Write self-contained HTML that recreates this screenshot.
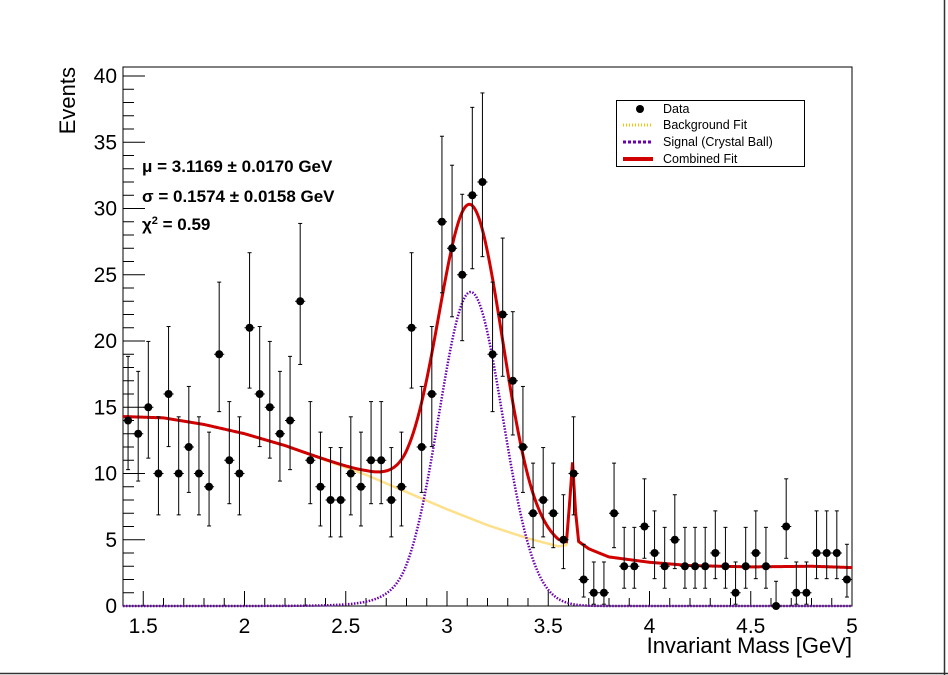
<!DOCTYPE html>
<html><head><meta charset="utf-8"><style>
body{margin:0;background:#fff;width:948px;height:675px;overflow:hidden}
svg{display:block;font-family:"Liberation Sans",Arial,sans-serif}
</style></head><body>
<svg id="chart" width="948" height="675" viewBox="0 0 948 675">
<rect x="0" y="0" width="948" height="675" fill="#fff"/>
<line x1="944.5" y1="0" x2="944.5" y2="675" stroke="#333" stroke-width="1.5"/>
<line x1="0" y1="673.5" x2="948" y2="673.5" stroke="#333" stroke-width="1.5"/>
<g id="plot"></g>
<text x="75" y="67" transform="rotate(-90 75 67)" text-anchor="end" font-size="22">Events</text>
<text x="852" y="653" text-anchor="end" font-size="22">Invariant Mass [GeV]</text>
<g font-size="17" font-weight="bold">
<text x="142" y="172">μ = 3.1169 ± 0.0170 GeV</text>
<text x="142" y="202">σ = 0.1574 ± 0.0158 GeV</text>
<text x="142" y="230">χ<tspan font-size="11" dy="-6">2</tspan><tspan dy="6"> = 0.59</tspan></text>
</g>
<g>
<rect x="616.5" y="100.5" width="188" height="66" fill="#fff" stroke="#000" stroke-width="1"/>
<circle cx="640" cy="109" r="4" fill="#000"/>
<text x="663" y="113" font-size="12.5">Data</text>
<line x1="623" y1="125" x2="653" y2="125" stroke="#f5c400" stroke-width="3" stroke-dasharray="1,2"/>
<text x="663" y="129" font-size="12.5">Background Fit</text>
<line x1="623" y1="142" x2="653" y2="142" stroke="#6a00b0" stroke-width="3" stroke-dasharray="3,2"/>
<text x="663" y="146" font-size="12.5">Signal (Crystal Ball)</text>
<line x1="623" y1="159" x2="653" y2="159" stroke="#d00000" stroke-width="4"/>
<text x="663" y="163" font-size="12.5">Combined Fit</text>
</g>
</svg>
<script>
const binCenters0 = 1.425;
const binWidth = 0.05;
const counts = [14,13,15,10,16,10,12,10,9,19,11,10,21,16,15,13,14,23,11,9,8,8,10,9,11,11,8,9,21,
 12,16,29,27,25,31,32,19,22,17,12,7,8,7,5,10,
 2,1,1,7,3,3,6,4,3,5,3,3,3,4,3,1,3,4,3,0,6,1,1,4,4,4,2];
const bgX = [1.4,1.6,1.8,2.0,2.2,2.4,2.6,2.8,3.0,3.2,3.4,3.55,3.59,3.605,3.62,3.635,3.65,3.7,3.8,4.0,4.2,4.5,4.8,5.0];
const bgY = [14.3,14.2,13.7,13.0,12.1,11.0,9.9,8.6,7.3,6.1,5.1,4.5,4.6,7.5,10.7,7.0,4.8,4.3,3.7,3.3,3.05,2.95,3.0,2.9];
const sigParams = [23.7, 3.1169, 0.1574, 2.0, 10]; // amplitude, mean, sigma, alpha, n
const xTicks = [1.5,2,2.5,3,3.5,4,4.5,5];
const yTicks = [0,5,10,15,20,25,30,35,40];

const X0=123, X1=852, Y0=606, Y1=67;
const xmin=1.4, xmax=5, ymin=0, ymax=40.68;
const sx = v => X0 + (v-xmin)/(xmax-xmin)*(X1-X0);
const sy = v => Y0 - (v-ymin)/(ymax-ymin)*(Y0-Y1);
const NS='http://www.w3.org/2000/svg';
const g=document.getElementById('plot');
function mk(t,a,p){const e=document.createElementNS(NS,t);for(const k in a)e.setAttribute(k,a[k]);(p||g).appendChild(e);return e;}

function bg(x){for(let i=0;i<bgX.length-1;i++){if(x<=bgX[i+1]){const t=(x-bgX[i])/(bgX[i+1]-bgX[i]);return bgY[i]+t*(bgY[i+1]-bgY[i]);}}return bgY[bgY.length-1];}
function sig(x){const [A,m,s,a,n]=sigParams;const t=(x-m)/s;
 if(t>-a) return A*Math.exp(-t*t/2);
 const Ac=Math.pow(n/a,n)*Math.exp(-a*a/2), B=n/a-a; return A*Ac*Math.pow(B-t,-n);}

const fr=mk('rect',{x:X0,y:Y1,width:X1-X0,height:Y0-Y1,fill:'none',stroke:'#000','stroke-width':1});



for(let v=0;v<=40;v++){const y=sy(v);const major=v%5===0;
 const t=mk('line',{x1:X0,y1:y,x2:X0+(major?22:11),y2:y,stroke:'#000','stroke-width':1});
 
 }
yTicks.forEach(v=>{const t=mk('text',{x:X0-6,y:sy(v)+7,'text-anchor':'end','font-size':21});t.textContent=v;
 
 });
for(let i=0;i<=36;i++){const v=1.4+i*0.1;const x=sx(v);const major=Math.abs(v*2-Math.round(v*2))<1e-6;
 const t=mk('line',{x1:x,y1:Y0,x2:x,y2:Y0-(major?15:8),stroke:'#000','stroke-width':1});
 
 }
xTicks.forEach(v=>{const t=mk('text',{x:sx(v),y:Y0+27,'text-anchor':'middle','font-size':21});t.textContent=v;
 
 });

function path(f,step){let d='';for(let x=xmin;x<=xmax+1e-9;x+=step){const y=Math.max(sy(f(x)),Y1);d+=(d?'L':'M')+sx(x).toFixed(2)+','+y.toFixed(2);}return d;}
const pb=mk('path',{d:path(bg,0.0025),fill:'none',stroke:'#ffe08a','stroke-width':2.5});


const ps=mk('path',{d:path(sig,0.0025),fill:'none',stroke:'#6a00b0','stroke-width':2.5,'stroke-dasharray':'1.5,1.5'});


const pc=mk('path',{d:path(x=>bg(x)+sig(x),0.0025),fill:'none',stroke:'#d00000','stroke-width':3});



counts.forEach((n,i)=>{const xc=binCenters0+i*binWidth;const x=sx(xc),y=sy(n);
 const lo=n>0?n-Math.sqrt(n-0.25):0, hi=n+Math.sqrt(n+0.75)+1;
 const grp=mk('g',{});
 
 
 mk('line',{x1:x,y1:sy(lo),x2:x,y2:Math.max(sy(hi),Y1),stroke:'#000','stroke-width':1},grp);
 mk('line',{x1:x-2,y1:sy(hi),x2:x+2,y2:sy(hi),stroke:'#000','stroke-width':1},grp);
 mk('line',{x1:x-2,y1:sy(lo),x2:x+2,y2:sy(lo),stroke:'#000','stroke-width':1},grp);
 mk('line',{x1:sx(xc-binWidth/2),y1:y,x2:sx(xc+binWidth/2),y2:y,stroke:'#000','stroke-width':1},grp);
 mk('circle',{cx:x,cy:y,r:4,fill:'#000'},grp);
});
</script>
</body></html>
